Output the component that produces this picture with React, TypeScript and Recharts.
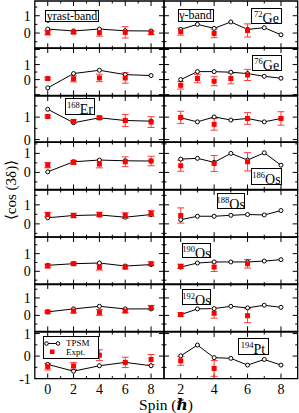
import React from "react";
import { ComposedChart, Line, Scatter, ErrorBar, XAxis, YAxis, ReferenceArea, ReferenceLine } from "recharts";

const FONT = "'Liberation Serif', 'DejaVu Serif', serif";

// spins of the two bands
const yrastSpins = [0, 2, 4, 6, 8];
const gammaSpins = [2, 3, 4, 5, 6, 7, 8];

// TPSM, yrast band
const tpsmYrastGe72 = [0.23, 0.12, 0.23, 0.13, 0.12];
const tpsmYrastGe76 = [-0.55, 0.4, 0.62, 0.33, 0.27];
const tpsmYrastEr168 = [1.35, 0.75, 0.97, 0.85, 0.82];
const tpsmYrastOs186 = [0.03, 0.56, 0.65, 0.61, 0.6];
const tpsmYrastOs188 = [0.32, 0.44, 0.47, 0.35, 0.49];
const tpsmYrastOs190 = [0.34, 0.43, 0.47, 0.3, 0.38];
const tpsmYrastOs192 = [0.2, 0.37, 0.52, 0.37, 0.37];
const tpsmYrastPt194 = [-0.37, -0.67, -0.43, -0.28, -0.43];

// TPSM, gamma band
const tpsmGammaGe72 = [0.21, 0.5, 0.27, 0.64, 0.21, 0.31, -0.1];
const tpsmGammaGe76 = [0.0, 0.53, 0.53, 0.49, 0.4, 0.22, 0.09];
const tpsmGammaEr168 = [0.97, 0.79, 1.01, 0.87, 0.94, 0.79, 0.94];
const tpsmGammaOs186 = [0.7, 0.74, 0.53, 1.0, 0.65, 1.03, 0.38];
const tpsmGammaOs188 = [0.22, 0.4, 0.4, 0.45, 0.49, 0.47, 0.7];
const tpsmGammaOs190 = [0.24, 0.47, 0.53, 0.53, 0.53, 0.58, 0.66];
const tpsmGammaOs192 = [0.04, 0.37, 0.39, 0.52, 0.43, 0.58, 0.46];
const tpsmGammaPt194 = [0.01, 0.49, -0.07, -0.1, -0.4, -0.15, -0.4];

// experiment, yrast band (value, error)
const exptYrastGe72 = [0.02, 0.05, 0.02, 0.04, 0.02];
const errYrastGe72 = [0.12, 0.07, 0.2, 0.33, 0.1];
const exptYrastGe76 = [0.07, 0.05, 0.11, 0.11];
const errYrastGe76 = [0.08, 0.2, 0.25, 0.35];
const exptYrastEr168 = [1.03, 0.81, 0.97, 0.85, 0.78];
const errYrastEr168 = [0.06, 0.07, 0.07, 0.27, 0.24];
const exptYrastOs186 = [0.38, 0.53, 0.44, 0.56, 0.6];
const errYrastOs186 = [0.14, 0.1, 0.2, 0.26, 0.25];
const exptYrastOs188 = [0.49, 0.44, 0.49, 0.44, 0.55];
const errYrastOs188 = [0.12, 0.12, 0.12, 0.15, 0.15];
const exptYrastOs190 = [0.3, 0.43, 0.24, 0.24, 0.43];
const errYrastOs190 = [0.1, 0.08, 0.17, 0.1, 0.1];
const exptYrastOs192 = [0.2, 0.25, 0.17, 0.25, 0.45];
const errYrastOs192 = [0.07, 0.12, 0.17, 0.1, 0.12];
const exptYrastPt194 = [-0.47, -0.44, 0.04, -0.28, -0.15];
const errYrastPt194 = [0.15, 0.15, 0.24, 0.23, 0.22];

// experiment, gamma band (spins, value, error)
const exptGammaSpinsGe72 = [2, 4, 6];
const exptGammaGe72 = [0.08, -0.02, 0.15];
const errGammaGe72 = [0.2, 0.25, 0.38];
const exptGammaSpinsGe76 = [2, 3, 4, 5, 6];
const exptGammaGe76 = [-0.38, 0.07, -0.11, 0.07, 0.31];
const errGammaGe76 = [0.25, 0.28, 0.3, 0.35, 0.37];
const exptGammaSpinsEr168 = [2, 4, 6, 8];
const exptGammaEr168 = [0.99, 0.68, 0.94, 0.94];
const errGammaEr168 = [0.27, 0.26, 0.26, 0.3];
const exptGammaSpinsOs186 = [2, 4, 6];
const exptGammaOs186 = [0.35, 0.47, 0.56];
const errGammaOs186 = [0.29, 0.42, 0.48];
const exptGammaSpinsOs188 = [2];
const exptGammaOs188 = [0.44];
const errGammaOs188 = [0.4];
const exptGammaSpinsOs190 = [2, 4, 6];
const exptGammaOs190 = [0.28, 0.24, 0.43];
const errGammaOs190 = [0.12, 0.25, 0.24];
const exptGammaSpinsOs192 = [2, 4, 6];
const exptGammaOs192 = [0.05, 0.12, -0.02];
const errGammaOs192 = [0.1, 0.28, 0.4];
const exptGammaSpinsPt194 = [2, 4];
const exptGammaPt194 = [-0.21, -0.55];
const errGammaPt194 = [0.2, 0.35];

// y range of each row of panels
const rowDomains = [
  [-0.88, 1.85],
  [-1.05, 2.1],
  [-0.12, 1.94],
  [-0.9, 1.6],
  [-0.7, 1.78],
  [-0.75, 1.94],
  [-0.92, 1.8],
  [-1, 1.07],
];

// labelled y ticks of each row
const rowYLabels = [
  [0, 1],
  [0, 1],
  [0, 1],
  [0, 1],
  [0, 1],
  [0, 1],
  [0, 1],
  [-1, 0, 1],
];

// layout (page pixels)
const ROW_EDGES = [1, 48.3, 95.7, 142, 189.5, 236.7, 284.3, 331.7, 378.3];
const LEFT_X0 = 34.8;
const MID_X = 164;
const RIGHT_X1 = 297.7;
const PAD_V = 8;

const pts = (xs: number[], ys: number[]) => xs.map((x, i) => ({ x, v: ys[i] }));
const ptsErr = (xs: number[], ys: number[], es: number[]) =>
  xs.map((x, i) => ({ x, v: ys[i], err: es[i] }));

const rows = [
  { yT: tpsmYrastGe72, yE: exptYrastGe72, yErr: errYrastGe72, gT: tpsmGammaGe72, gS: exptGammaSpinsGe72, gE: exptGammaGe72, gErr: errGammaGe72 },
  { yT: tpsmYrastGe76, yE: exptYrastGe76, yErr: errYrastGe76, gT: tpsmGammaGe76, gS: exptGammaSpinsGe76, gE: exptGammaGe76, gErr: errGammaGe76 },
  { yT: tpsmYrastEr168, yE: exptYrastEr168, yErr: errYrastEr168, gT: tpsmGammaEr168, gS: exptGammaSpinsEr168, gE: exptGammaEr168, gErr: errGammaEr168 },
  { yT: tpsmYrastOs186, yE: exptYrastOs186, yErr: errYrastOs186, gT: tpsmGammaOs186, gS: exptGammaSpinsOs186, gE: exptGammaOs186, gErr: errGammaOs186 },
  { yT: tpsmYrastOs188, yE: exptYrastOs188, yErr: errYrastOs188, gT: tpsmGammaOs188, gS: exptGammaSpinsOs188, gE: exptGammaOs188, gErr: errGammaOs188 },
  { yT: tpsmYrastOs190, yE: exptYrastOs190, yErr: errYrastOs190, gT: tpsmGammaOs190, gS: exptGammaSpinsOs190, gE: exptGammaOs190, gErr: errGammaOs190 },
  { yT: tpsmYrastOs192, yE: exptYrastOs192, yErr: errYrastOs192, gT: tpsmGammaOs192, gS: exptGammaSpinsOs192, gE: exptGammaOs192, gErr: errGammaOs192 },
  { yT: tpsmYrastPt194, yE: exptYrastPt194, yErr: errYrastPt194, gT: tpsmGammaPt194, gS: exptGammaSpinsPt194, gE: exptGammaPt194, gErr: errGammaPt194 },
];

const halfSteps = (lo: number, hi: number) => {
  const out: number[] = [];
  for (let t = Math.ceil(lo * 2) / 2; t <= hi; t += 0.5) out.push(t);
  return out;
};

const TICK_MAJ = 5;
const TICK_MIN = 2.5;

const xLabel = (p: any) => {
  const v = p.payload.value;
  if (v % 2 !== 0) return <g />;
  return (
    <text x={p.x} y={p.y + 15} textAnchor="middle" fontSize={14} fontFamily={FONT} fill="#000">
      {v}
    </text>
  );
};

const yLabel = (p: any) => (
  <text x={p.x - 4} y={p.y} dy="0.36em" textAnchor="end" fontSize={14} fontFamily={FONT} fill="#000">
    {p.payload.value}
  </text>
);

const square = (p: any) => <rect x={p.cx - 2.5} y={p.cy - 2.5} width={5} height={5} fill="#ff0000" />;

function Panel({ row, left }: { row: number; left: boolean }) {
  const r = rows[row];
  const [lo, hi] = rowDomains[row];
  const top = ROW_EDGES[row];
  const bottom = ROW_EDGES[row + 1];
  const last = row === 7;
  const plotL = left ? LEFT_X0 : MID_X;
  const plotR = left ? MID_X : RIGHT_X1;
  const padL = left ? LEFT_X0 : 2;
  const xAxisH = last ? 22 : 0;
  const W = plotR - plotL + padL + 2;
  const H = bottom - top + 2 * PAD_V + xAxisH;
  const xDomain = left ? [-1, 9] : [1, 9];
  const xTicks = left ? [0, 1, 2, 3, 4, 5, 6, 7, 8] : [2, 3, 4, 5, 6, 7, 8];
  const yTicks = halfSteps(lo, hi).filter((t) => t > lo + 0.01 && t < hi - 0.01);
  // tick lengths in data units
  const ux = (xDomain[1] - xDomain[0]) / (plotR - plotL);
  const uy = (hi - lo) / (bottom - top);
  const theory = left ? pts(yrastSpins, r.yT) : pts(gammaSpins, r.gT);
  const expt = left
    ? ptsErr(yrastSpins.slice(0, r.yE.length), r.yE, r.yErr)
    : ptsErr(r.gS, r.gE, r.gErr);
  const ids = { xAxisId: "b", yAxisId: "l" };
  const tickLines: React.ReactNode[] = [];
  xTicks.forEach((t) => {
    const len = (t % 2 === 0 ? TICK_MAJ : TICK_MIN) * uy;
    tickLines.push(
      <ReferenceLine key={"xb" + t} {...ids} segment={[{ x: t, y: lo }, { x: t, y: lo + len }]} stroke="#000" strokeWidth={1} />,
      <ReferenceLine key={"xt" + t} {...ids} segment={[{ x: t, y: hi }, { x: t, y: hi - len }]} stroke="#000" strokeWidth={1} />
    );
  });
  yTicks.forEach((t) => {
    const len = (Number.isInteger(t) ? TICK_MAJ : TICK_MIN) * ux;
    tickLines.push(
      <ReferenceLine key={"yl" + t} {...ids} segment={[{ x: xDomain[0], y: t }, { x: xDomain[0] + len, y: t }]} stroke="#000" strokeWidth={1} />,
      <ReferenceLine key={"yr" + t} {...ids} segment={[{ x: xDomain[1], y: t }, { x: xDomain[1] - len, y: t }]} stroke="#000" strokeWidth={1} />
    );
  });

  return (
    <div style={{ position: "absolute", left: plotL - padL, top: top - PAD_V }}>
      <ComposedChart width={W} height={H} margin={{ top: PAD_V, right: 2, bottom: PAD_V, left: left ? 0 : 2 }}>
        <XAxis xAxisId="b" dataKey="x" type="number" domain={xDomain} allowDataOverflow ticks={xTicks}
          interval={0} tickSize={0} tickMargin={0} tickLine={false} axisLine={false}
          height={xAxisH} hide={!last} tick={xLabel} />
        <YAxis yAxisId="l" dataKey="v" type="number" domain={[lo, hi]} allowDataOverflow ticks={rowYLabels[row]}
          interval={0} tickSize={0} tickMargin={0} tickLine={false} axisLine={false}
          width={left ? LEFT_X0 : 0} hide={!left} tick={yLabel} />
        {tickLines}
        <Line {...ids} data={theory} dataKey="v" stroke="#000" strokeWidth={1}
          dot={{ r: 2, fill: "#fff", stroke: "#000", strokeWidth: 1 }} isAnimationActive={false} />
        <Scatter {...ids} data={expt} dataKey="v" shape={square} isAnimationActive={false}>
          <ErrorBar dataKey="err" direction="y" width={3.5} stroke="#ff3b3b" strokeWidth={1} isAnimationActive={false} />
        </Scatter>
        <ReferenceArea {...ids} x1={xDomain[0]} x2={xDomain[1]} y1={lo} y2={hi} fill="none" fillOpacity={0}
          stroke="#000" strokeWidth={1.3} strokeOpacity={1} ifOverflow="visible" />
      </ComposedChart>
    </div>
  );
}

const boxStyle = (left: number, top: number, width: number, height: number): React.CSSProperties => ({
  position: "absolute",
  left,
  top,
  width,
  height,
  border: "1.2px solid #000",
  boxSizing: "border-box",
  background: "#fff",
  fontFamily: FONT,
  color: "#000",
  display: "flex",
  alignItems: "center",
  justifyContent: "center",
  whiteSpace: "nowrap",
});

function Nucleus({ left, top, w, h, mass, el }: { left: number; top: number; w: number; h: number; mass: string; el: string }) {
  return (
    <div style={boxStyle(left, top, w, h)}>
      <span style={{ fontSize: 14, lineHeight: "14px", position: "relative", top: 1 }}>
        <sup style={{ fontSize: 8.5, verticalAlign: "6px" }}>{mass}</sup>
        {el}
      </span>
    </div>
  );
}

export default function App() {
  const panels: React.ReactNode[] = [];
  for (let i = 0; i < 8; i++) {
    panels.push(<Panel key={"l" + i} row={i} left={true} />);
    panels.push(<Panel key={"r" + i} row={i} left={false} />);
  }
  return (
    <div style={{ position: "absolute", left: 0, top: 0, width: 299, height: 413, background: "#fff", overflow: "hidden" }}>
      {panels}
      <div style={{ ...boxStyle(45, 10, 54, 12), fontSize: 12 }}>yrast-band</div>
      <div style={{ ...boxStyle(177.5, 8.5, 36, 13.5), fontSize: 12 }}>γ-band</div>
      <Nucleus left={251} top={7.5} w={31} h={16.5} mass="72" el="Ge" />
      <Nucleus left={251.5} top={55} w={30.5} h={15.5} mass="76" el="Ge" />
      <Nucleus left={65} top={97.5} w={30} h={17.5} mass="168" el="Er" />
      <Nucleus left={251} top={167.5} w={31} h={17} mass="186" el="Os" />
      <Nucleus left={216.5} top={193} w={28.5} h={16} mass="188" el="Os" />
      <Nucleus left={182} top={242.5} w={29} h={15.5} mass="190" el="Os" />
      <Nucleus left={182} top={289} w={29} h={16} mass="192" el="Os" />
      <Nucleus left={237.5} top={338} w={31} h={17} mass="194" el="Pt" />
      <div style={{ position: "absolute", left: 43, top: 336, width: 56, height: 23, border: "1.2px solid #000",
        boxSizing: "border-box", background: "#fff", fontFamily: FONT, fontSize: 9 }}>
        <svg width={20} height={20} style={{ position: "absolute", left: 0, top: 0 }}>
          <line x1={1.5} x2={15} y1={6.5} y2={6.5} stroke="#000" />
          <circle cx={2.5} cy={6.5} r={1.8} fill="#fff" stroke="#000" />
          <circle cx={14} cy={6.5} r={1.8} fill="#fff" stroke="#000" />
          <rect x={6} y={12.5} width={4.5} height={4.5} fill="#ff0000" />
        </svg>
        <div style={{ position: "absolute", left: 22, top: 1.5, lineHeight: "9px" }}>TPSM</div>
        <div style={{ position: "absolute", left: 22, top: 10.5, lineHeight: "9px" }}>Expt.</div>
      </div>
      <div style={{ position: "absolute", left: 11, top: 190, transform: "translate(-50%, -50%) rotate(-90deg)",
        fontFamily: FONT, fontSize: 15, whiteSpace: "nowrap" }}>
        ⟨cos (3δ)⟩
      </div>
      <div style={{ position: "absolute", left: 166, top: 405, transform: "translate(-50%, -50%)",
        fontFamily: FONT, fontSize: 15.5, lineHeight: "16px", whiteSpace: "nowrap" }}>
        Spin (<b><i>ℏ</i></b>)
      </div>
    </div>
  );
}
